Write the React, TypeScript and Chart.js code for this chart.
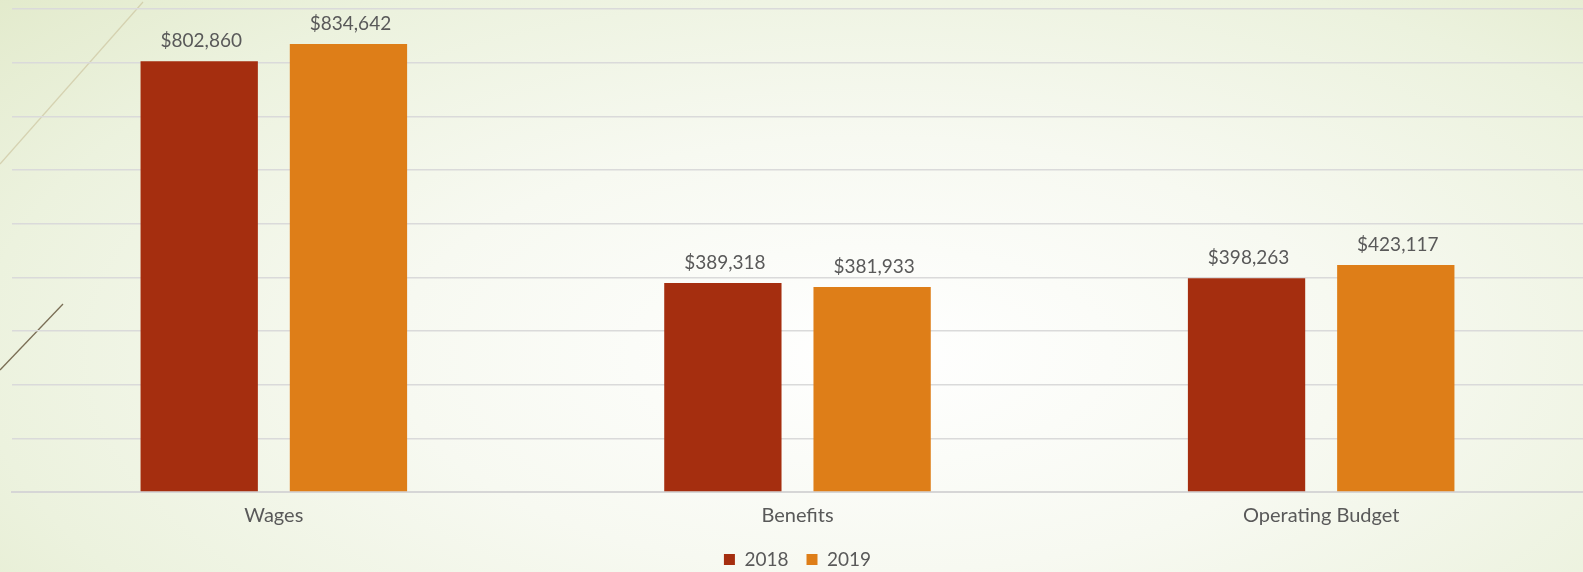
import React, { useEffect, useRef } from "react";
import { Chart, registerables } from "chart.js";

Chart.register(...registerables);

const categories = ["Wages", "Benefits", "Operating Budget"];
const seriesNames = ["2018", "2019"];
const values2018 = [802860, 389318, 398263];
const values2019 = [834642, 381933, 423117];
const yTicks = [0, 100000, 200000, 300000, 400000, 500000, 600000, 700000, 800000, 900000];

const COLORS = ["#A52E0F", "#DE7E18"];
const TEXT = "#595959";
const FONT = "Lato, 'DejaVu Sans', sans-serif";

const fmt = (v: number) => "$" + v.toLocaleString("en-US");

const decoPlugin = {
  id: "deco",
  beforeDraw(chart: any) {
    const ctx = chart.ctx;
    ctx.save();
    ctx.strokeStyle = "rgba(200,190,150,0.6)";
    ctx.lineWidth = 1.2;
    ctx.beginPath();
    ctx.moveTo(0, 164);
    ctx.lineTo(143, 2);
    ctx.stroke();
    ctx.strokeStyle = "#7a6e55";
    ctx.lineWidth = 1.3;
    ctx.beginPath();
    ctx.moveTo(0, 370);
    ctx.lineTo(63, 304);
    ctx.stroke();
    ctx.restore();
  },
};

const labelPlugin = {
  id: "valueLabels",
  afterDatasetsDraw(chart: any) {
    const ctx = chart.ctx;
    ctx.save();
    ctx.font = `19px ${FONT}`;
    ctx.fillStyle = TEXT;
    ctx.textAlign = "center";
    ctx.textBaseline = "alphabetic";
    chart.data.datasets.forEach((ds: any, di: number) => {
      const meta = chart.getDatasetMeta(di);
      meta.data.forEach((bar: any, i: number) => {
        ctx.fillText(fmt(ds.data[i]), bar.x + 2, bar.y - 14);
      });
    });
    ctx.restore();
  },
};

export default function App() {
  const ref = useRef<HTMLCanvasElement>(null);
  useEffect(() => {
    if (!ref.current) return;
    const chart = new Chart(ref.current, {
      type: "bar",
      data: {
        labels: categories,
        datasets: [
          { label: seriesNames[0], data: values2018, backgroundColor: COLORS[0] },
          { label: seriesNames[1], data: values2019, backgroundColor: COLORS[1] },
        ],
      },
      options: {
        animation: false,
        responsive: true,
        maintainAspectRatio: false,
        layout: { padding: { left: 12, right: 0, top: 9, bottom: -7 } },
        datasets: { bar: { categoryPercentage: 0.57, barPercentage: 0.786 } },
        plugins: {
          legend: {
            position: "bottom",
            labels: {
              boxWidth: 11,
              boxHeight: 11,
              color: TEXT,
              font: { family: FONT, size: 19 },
              padding: 18,
            },
          },
          tooltip: { enabled: false },
        },
        scales: {
          x: {
            grid: { display: false },
            border: { display: true, color: "#d6d6d6", width: 2 },
            ticks: { color: TEXT, font: { family: FONT, size: 20 }, padding: 4 },
          },
          y: {
            min: 0,
            max: 900000,
            afterBuildTicks: (scale: any) => {
              scale.ticks = yTicks.map((v) => ({ value: v }));
            },
            ticks: { display: false },
            grid: { color: "#dadada", lineWidth: 1.5, drawTicks: false },
            border: { display: false },
          },
        },
      },
      plugins: [decoPlugin, labelPlugin],
    });
    return () => chart.destroy();
  }, []);

  return (
    <div
      style={{
        position: "fixed",
        left: 0,
        top: 0,
        width: 1583,
        height: 572,
        background:
          "radial-gradient(ellipse 75% 95% at 55% 62%, #ffffff 0%, #f7f9f1 40%, #ecf2de 75%, #e2eacb 100%)",
      }}
    >
      <canvas ref={ref} />
    </div>
  );
}
